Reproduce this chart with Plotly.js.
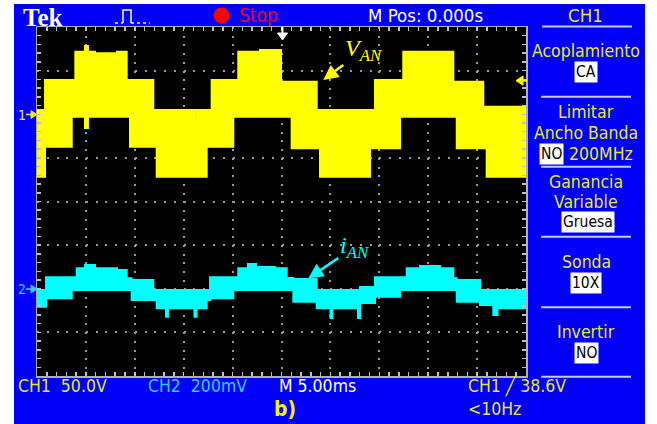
<!DOCTYPE html>
<html><head><meta charset="utf-8">
<script src="https://cdn.plot.ly/plotly-3.0.1.min.js"></script>
<style>
html,body{margin:0;padding:0;background:#fff;width:657px;height:424px;overflow:hidden}
#scope{position:absolute;left:14px;top:4px;width:631px;height:420px}
</style></head><body>
<div id="scope"></div>
<script>
// ---- data (time in ms, CH1 in V, CH2 in mV) ----
const ch1Time  = [-25, -24.18, -21.45, -21.08, -20.09, -19.79, -19.07, -16.82, -15.83, -15.49, -13.11, -12.76, -11.81, -11.61, -8.90, -8.69, -7.65, -7.14, -4.93, -4.42, -2.20, -0.05, 1.04, 3.60, 3.94, 9.05, 9.56, 12.12, 12.45, 17.57, 17.92, 20.63, 20.98, 25];
const ch1Upper = [4.9, 39.3, 39.3, 71.7, 78.2, 71.7, 69.8, 71.7, 39.3, 39.3, 4.9, 4.9, -2.8, 4.9, -6.6, 4.9, 4.9, 39.3, 39.3, 71.7, 73.6, 37.3, 37.3, 4.9, 4.9, 4.9, 39.3, 39.3, 71.7, 37.3, 37.3, 8.7, 8.7, 8.7];
const ch1Lower = [-71.6, -37.2, -2.8, -2.8, -15.8, -2.8, -2.8, -2.8, -2.8, -37.2, -37.2, -71.6, -71.6, -71.6, -71.6, -71.6, -37.2, -37.2, -2.8, -2.8, -2.8, -2.8, -39.0, -39.0, -71.6, -39.0, -39.0, -2.8, -2.8, -2.8, -39.0, -39.0, -71.6, -71.6];

const ch2Time  = [-25, -24.08, -21.45, -20.94, -20.09, -19.07, -16.82, -15.83, -15.32, -13.11, -12.76, -11.81, -11.61, -8.90, -8.69, -7.65, -7.31, -4.93, -4.42, -3.43, -2.61, -0.66, 0.53, 1.21, 3.60, 5.01, 5.21, 7.82, 8.03, 9.56, 12.12, 12.80, 14.16, 16.20, 17.57, 17.92, 20.30, 21.66, 22.09, 25];
const ch2Upper = [-5.7, 52.5, 52.5, 93.8, 108.9, 93.8, 86.0, 47.9, 40.1, -5.7, -5.7, -5.7, -5.7, -5.7, -5.7, -5.7, 52.5, 52.5, 93.8, 113.5, 99.7, 93.8, 49.3, 44.7, -5.7, -5.7, -5.7, -5.7, 8.0, 52.5, 52.5, 93.8, 104.3, 93.8, 47.9, 40.1, -5.7, -5.7, -5.7, -5.7];
const ch2Lower = [-82.3, -43.8, -5.7, -5.7, -5.7, -5.7, -5.7, -5.7, -51.6, -51.6, -89.7, -128.2, -89.7, -128.2, -89.7, -51.6, -43.8, -5.7, -5.7, -5.7, -5.7, -5.7, -5.7, -59.4, -89.7, -134.1, -89.7, -134.1, -65.3, -36.5, -5.7, -5.7, -5.7, -5.7, -5.7, -59.4, -74.5, -120.4, -89.7, -89.7];

const ch1PerDiv = 50;     // V/div
const ch2PerDiv = 200;    // mV/div
const msPerDiv = 5;       // ms/div
const triggerLevel = 38.6; // V

const headerTexts = ['Tek', 'Stop', 'M Pos: 0.000s', 'CH1'];
const menuLabels = ['Acoplamiento', 'Limitar', 'Ancho Banda', '200MHz', 'Ganancia', 'Variable', 'Sonda', 'Invertir'];
const menuValues = ['CA', 'NO', 'Gruesa', '10X', 'NO'];
const footerTexts = ['CH1\u00a0\u00a050.0V', 'CH2\u00a0\u00a0200mV', 'M\u00a05.00ms', 'CH1\u00a0\u2571\u00a038.6V', 'b)', '&lt;10Hz'];

// ---- geometry helpers (page pixels -> paper fractions) ----
const PL = 37, PT = 27, PW = 489, PH = 349;
const X = px => (px - PL) / PW;
const Y = py => 1 - (py - PT) / PH;
const path = (pts, close) => 'M' + pts.map(p => X(p[0]) + ',' + Y(p[1])).join('L') + (close ? 'Z' : '');

const NARROW = "'Liberation Sans Narrow', 'DejaVu Sans Condensed', 'Arial Narrow', 'Liberation Sans', sans-serif";
const YEL = '#e8e82a', TRACE_Y = '#ffff00', TRACE_C = '#00ffff', CYTXT = '#33d0ff';

function txt(t, px, py, color, size, extra) {
  return Object.assign({xref: 'paper', yref: 'paper', x: X(px), y: Y(py), text: t, showarrow: false,
    xanchor: 'center', yanchor: 'middle', font: {family: NARROW, size: size, color: color}}, extra || {});
}
function box(t, px, py, size) {
  return txt(t, px, py, '#000', size, {bgcolor: '#ffffff', borderpad: 1});
}

const annotations = [
  txt('<b>' + headerTexts[0] + '</b>', 42, 17, '#ffffff', 25, {font: {family: "'Liberation Serif', serif", size: 25, color: '#fff'}}),
  txt(headerTexts[1], 237, 15.5, '#e8001c', 19, {xanchor: 'left'}),
  txt(headerTexts[2], 425, 15, '#ffffff', 18.5),
  txt(headerTexts[3], 585, 15, YEL, 18.5),
  txt(menuLabels[0], 586, 51, YEL, 17.5),
  box(menuValues[0], 586, 72, 15.5),
  txt(menuLabels[1], 586, 112, YEL, 17.5),
  txt(menuLabels[2], 586, 133, YEL, 17.5),
  box(menuValues[1], 551.5, 154, 15.5),
  txt(menuLabels[3], 601, 154, YEL, 17.5),
  txt(menuLabels[4], 586, 182, YEL, 17.5),
  txt(menuLabels[5], 586, 202, YEL, 17.5),
  box(menuValues[2], 587.5, 222, 15.5),
  txt(menuLabels[6], 586, 262, YEL, 17.5),
  box(menuValues[3], 586, 283, 15.5),
  txt(menuLabels[7], 586, 332, YEL, 17.5),
  box(menuValues[4], 586, 353, 15.5),
  txt(footerTexts[0], 16, 386, YEL, 17.5, {xanchor: 'left'}),
  txt(footerTexts[1], 146, 386, CYTXT, 17.5, {xanchor: 'left'}),
  txt(footerTexts[2], 277, 386, '#ffffff', 17.5, {xanchor: 'left'}),
  txt(footerTexts[3], 466, 386, YEL, 17.5, {xanchor: 'left'}),
  txt('<b>' + footerTexts[4] + '</b>', 284.5, 409, '#f4f400', 21),
  txt(footerTexts[5], 466, 409, YEL, 17.5, {xanchor: 'left'}),
  txt('1', 22, 115, YEL, 14),
  txt('2', 22, 289, CYTXT, 14),
  {xref: 'x', yref: 'y', x: 4.27, y: 39.3, ax: 40, ay: -30, text: '<i>V<sub>AN</sub></i>',
   font: {family: "'Liberation Serif', serif", size: 24, color: TRACE_Y},
   showarrow: true, arrowhead: 2, arrowsize: 1.2, arrowwidth: 2.5, arrowcolor: TRACE_Y},
  {xref: 'x', yref: 'y2', x: 2.74, y: 47.9, ax: 46, ay: -31, text: '<i>i<sub>AN</sub></i>',
   font: {family: "'Liberation Serif', serif", size: 24, color: TRACE_C},
   showarrow: true, arrowhead: 2, arrowsize: 1.2, arrowwidth: 2.5, arrowcolor: TRACE_C}
];

const SEP = '#c8c8f8';
const line = (x0, y0, x1, y1, color, w, dash) => ({type: 'line', xref: 'paper', yref: 'paper',
  x0: X(x0), y0: Y(y0), x1: X(x1), y1: Y(y1), line: {color: color, width: w, dash: dash || 'solid'}});
const shapes = [
  line(542, 26.5, 632, 26.5, SEP, 2),
  line(541, 96.7, 631, 96.7, SEP, 2),
  line(541, 166.7, 631, 166.7, SEP, 2),
  line(541, 236.7, 631, 236.7, SEP, 2),
  line(541, 307.3, 631, 307.3, SEP, 2),
  line(541, 376.7, 631, 376.7, SEP, 2),
  {type: 'circle', xref: 'paper', yref: 'paper', x0: X(213.5), x1: X(229.5), y0: Y(23.5), y1: Y(7.5),
   fillcolor: '#ff0000', line: {width: 0}},
  {type: 'path', xref: 'paper', yref: 'paper', path: path([[123, 23], [123, 10], [131, 10], [131, 23]]),
   line: {color: '#fff', width: 1.5}},
  line(115, 23, 123, 23, '#fff', 1.5, 'dot'),
  line(131, 23, 150, 23, '#fff', 1.5, 'dot'),
  {type: 'path', xref: 'paper', yref: 'paper', path: path([[277.5, 33], [287.5, 33], [282.5, 40]], true),
   fillcolor: '#fff', line: {color: '#fff', width: 1}},
  line(282.5, 27, 282.5, 33, '#fff', 2),
  {type: 'path', xref: 'paper', yref: 'paper', path: path([[516, 80.6], [523, 76], [523, 85.2]], true),
   fillcolor: TRACE_Y, line: {color: TRACE_Y, width: 1}},
  line(523, 80.6, 527, 80.6, TRACE_Y, 2),
  {type: 'path', xref: 'paper', yref: 'paper', path: path([[37, 114.5], [31, 110.5], [31, 118.5]], true),
   fillcolor: YEL, line: {color: YEL, width: 1}},
  line(26, 114.5, 31, 114.5, YEL, 1.5),
  {type: 'path', xref: 'paper', yref: 'paper', path: path([[37, 289], [31, 285], [31, 293]], true),
   fillcolor: CYTXT, line: {color: CYTXT, width: 1}},
  line(26, 289, 31, 289, CYTXT, 1.5)
];

const band = (t, hi, lo, color, yax) => [
  {x: t, y: hi, xaxis: 'x', yaxis: yax, mode: 'lines', line: {shape: 'hv', color: color, width: 2}, hoverinfo: 'skip'},
  {x: t, y: lo, xaxis: 'x', yaxis: yax, mode: 'lines', line: {shape: 'hv', color: color, width: 2},
   fill: 'tonexty', fillcolor: color, hoverinfo: 'skip'}
];
const traces = band(ch1Time, ch1Upper, ch1Lower, TRACE_Y, 'y').concat(band(ch2Time, ch2Upper, ch2Lower, TRACE_C, 'y2'));

const xr = [-5 * msPerDiv, 5 * msPerDiv];
const y1r = [-6 * ch1PerDiv, 2 * ch1PerDiv];
const y2r = [-2 * ch2PerDiv, 6 * ch2PerDiv];
const GRID = '#9a9a9a', TICK = '#c0c0c0';

const layout = {
  width: 631, height: 420,
  margin: {l: 23, r: 119, t: 23, b: 48, pad: 0},
  paper_bgcolor: '#0000f8', plot_bgcolor: '#000000',
  showlegend: false,
  xaxis: {range: xr, tick0: xr[0], dtick: msPerDiv, showgrid: true, gridcolor: GRID, gridwidth: 2, griddash: '2px,6.72px',
    zeroline: false, showline: true, linecolor: '#b0b0b0', linewidth: 1.5, mirror: 'ticks',
    ticks: 'inside', ticklen: 4, tickcolor: TICK, tickwidth: 1.5, showticklabels: false,
    minor: {dtick: msPerDiv / 5, tick0: xr[0], ticks: 'inside', ticklen: 4, tickcolor: TICK, tickwidth: 1.5, showgrid: false}},
  yaxis: {range: y1r, tick0: 0, dtick: ch1PerDiv, showgrid: true, gridcolor: GRID, gridwidth: 2, griddash: '2px,7.78px',
    zeroline: false, showline: true, linecolor: '#b0b0b0', linewidth: 1.5, mirror: 'ticks',
    ticks: 'inside', ticklen: 4, tickcolor: TICK, tickwidth: 1.5, showticklabels: false,
    minor: {dtick: ch1PerDiv / 5, tick0: 0, ticks: 'inside', ticklen: 4, tickcolor: TICK, tickwidth: 1.5, showgrid: false}},
  yaxis2: {range: y2r, overlaying: 'y', visible: false, showgrid: false, zeroline: false},
  xaxis2: {range: xr, overlaying: 'x', anchor: 'free', position: 0.5 - 3 / PH, tick0: xr[0], dtick: msPerDiv / 5,
    ticks: 'inside', ticklen: 6, tickwidth: 2, tickcolor: TICK, showticklabels: false, showgrid: false, showline: false, zeroline: false},
  yaxis3: {range: y1r, overlaying: 'y', anchor: 'free', side: 'left', position: 0.5 - 3.5 / PW, tick0: 0, dtick: ch1PerDiv / 5,
    ticks: 'inside', ticklen: 7, tickwidth: 2, tickcolor: TICK, showticklabels: false, showgrid: false, showline: false, zeroline: false},
  annotations: annotations,
  shapes: shapes
};

Plotly.newPlot('scope', traces, layout, {staticPlot: true, displayModeBar: false});
</script>
</body></html>
